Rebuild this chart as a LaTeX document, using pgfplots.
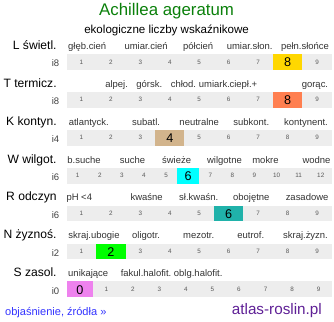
\documentclass[border=0pt]{standalone}
\usepackage{pgfplots}
\pgfplotsset{compat=1.18}
\usepackage{fontspec}
\setmainfont{Liberation Sans}
\definecolor{bg}{HTML}{EDEDED}
\definecolor{titlegreen}{HTML}{0A800A}
\definecolor{cL}{HTML}{FFD700}
\definecolor{cT}{HTML}{FF7F50}
\definecolor{cK}{HTML}{D2B48C}
\definecolor{cW}{HTML}{00FFFF}
\definecolor{cR}{HTML}{20B2AA}
\definecolor{cN}{HTML}{00FF00}
\definecolor{cS}{HTML}{EE82EE}
\definecolor{linkblue}{HTML}{3333FF}
\definecolor{sitepurple}{HTML}{5F2096}
\begin{document}
\begin{tikzpicture}[
  rowt/.style={anchor=base east,font=\fontsize{11.5}{13}\selectfont},
  cat/.style={anchor=base,font=\fontsize{9}{10}\selectfont,text=black!80},
  ilab/.style={anchor=base east,font=\fontsize{9}{10}\selectfont,text=black!75},
  num/.style={anchor=base,font=\fontsize{6}{7}\selectfont,text=black!65},
  big/.style={anchor=base,font=\fontsize{12}{14}\selectfont}]
\begin{axis}[width=334pt,height=322pt,scale only axis,
  xmin=0,xmax=334,ymin=0,ymax=322,y dir=reverse,hide axis,clip=false]
% title
\node[anchor=base,font=\fontsize{16}{18}\selectfont,text=titlegreen] at (axis cs:167,25.5) {Achillea ageratum};
\node[anchor=base,font=\fontsize{11}{13}\selectfont] at (axis cs:167,42) {ekologiczne liczby wskaźnikowe};
% background bars
\addplot[fill=bg,draw=none,mark=none] coordinates {(72,62) (324,62) (324,77) (72,77)};
\addplot[fill=bg,draw=none,mark=none] coordinates {(72,98) (324,98) (324,113) (72,113)};
\addplot[fill=bg,draw=none,mark=none] coordinates {(72,134) (324,134) (324,149) (72,149)};
\addplot[fill=bg,draw=none,mark=none] coordinates {(72,170) (324,170) (324,185) (72,185)};
\addplot[fill=bg,draw=none,mark=none] coordinates {(72,206) (324,206) (324,221) (72,221)};
\addplot[fill=bg,draw=none,mark=none] coordinates {(72,242) (324,242) (324,257) (72,257)};
\addplot[fill=bg,draw=none,mark=none] coordinates {(72,278) (324,278) (324,293) (72,293)};
% small numbers (scale positions other than the indicated value)
\pgfplotsinvokeforeach{1,2,3,4,5,6,7,9}{\node[num] at (axis cs:{86+28*(#1-1)},71.5) {#1};}
\pgfplotsinvokeforeach{1,2,3,4,5,6,7,9}{\node[num] at (axis cs:{86+28*(#1-1)},107.5) {#1};}
\pgfplotsinvokeforeach{1,2,3,5,6,7,8,9}{\node[num] at (axis cs:{86+28*(#1-1)},143.5) {#1};}
\pgfplotsinvokeforeach{1,2,3,4,5,7,8,9,10,11,12}{\node[num] at (axis cs:{82.5+21*(#1-1)},179.5) {#1};}
\pgfplotsinvokeforeach{1,2,3,4,5,7,8,9}{\node[num] at (axis cs:{86+28*(#1-1)},215.5) {#1};}
\pgfplotsinvokeforeach{1,3,4,5,6,7,8,9}{\node[num] at (axis cs:{86+28*(#1-1)},251.5) {#1};}
\pgfplotsinvokeforeach{1,...,9}{\node[num] at (axis cs:{84.6+25.2*#1},287.5) {#1};}
% highlighted cells
\addplot[fill=cL,draw=none,mark=none] coordinates {(268,62) (296,62) (296,77) (268,77)};
\addplot[fill=cT,draw=none,mark=none] coordinates {(268,98) (296,98) (296,113) (268,113)};
\addplot[fill=cK,draw=none,mark=none] coordinates {(156,134) (184,134) (184,149) (156,149)};
\addplot[fill=cW,draw=none,mark=none] coordinates {(177,170) (198,170) (198,185) (177,185)};
\addplot[fill=cR,draw=none,mark=none] coordinates {(212,206) (240,206) (240,221) (212,221)};
\addplot[fill=cN,draw=none,mark=none] coordinates {(100,242) (128,242) (128,257) (100,257)};
\addplot[fill=cS,draw=none,mark=none] coordinates {(72,278) (97.2,278) (97.2,293) (72,293)};
\node[big] at (axis cs:282,74) {8};
\node[big] at (axis cs:282,110) {8};
\node[big] at (axis cs:170,146) {4};
\node[big] at (axis cs:187.5,182) {6};
\node[big] at (axis cs:226,218) {6};
\node[big] at (axis cs:114,254) {2};
\node[big] at (axis cs:84.6,290) {0};
% i labels
\node[ilab] at (axis cs:68.5,74) {i8};
\node[ilab] at (axis cs:68.5,110) {i8};
\node[ilab] at (axis cs:68.5,146) {i4};
\node[ilab] at (axis cs:68.5,182) {i6};
\node[ilab] at (axis cs:68.5,218) {i6};
\node[ilab] at (axis cs:68.5,254) {i2};
\node[ilab] at (axis cs:68.5,290) {i0};
% row titles
\node[rowt] at (axis cs:66,57.5) {L świetl.};
\node[rowt] at (axis cs:66,93.5) {T termicz.};
\node[rowt] at (axis cs:66,129.5) {K kontyn.};
\node[rowt] at (axis cs:66,165.5) {W wilgot.};
\node[rowt] at (axis cs:66,201.5) {R odczyn};
\node[rowt] at (axis cs:66,237.5) {N żyznoś.};
\node[rowt] at (axis cs:66,273.5) {S zasol.};
% category labels
\node[cat] at (axis cs:91.5,57.5) {głęb.cień};
\node[cat] at (axis cs:147.5,57.5) {umiar.cień};
\node[cat] at (axis cs:197,57.5) {półcień};
\node[cat] at (axis cs:246,57.5) {umiar.słon.};
\node[cat] at (axis cs:298.5,57.5) {pełn.słońce};
\node[cat] at (axis cs:119.5,93.5) {alpej.};
\node[cat] at (axis cs:150.5,93.5) {górsk.};
\node[cat] at (axis cs:183,93.5) {chłod.};
\node[cat] at (axis cs:212.5,93.5) {umiark.};
\node[cat] at (axis cs:240,93.5) {ciepł.+};
\node[cat] at (axis cs:308,93.5) {gorąc.};
\node[cat] at (axis cs:93,129.5) {atlantyck.};
\node[cat] at (axis cs:147.5,129.5) {subatl.};
\node[cat] at (axis cs:198,129.5) {neutralne};
\node[cat] at (axis cs:247.5,129.5) {subkont.};
\node[cat] at (axis cs:299.5,129.5) {kontynent.};
\node[cat] at (axis cs:88.5,165.5) {b.suche};
\node[cat] at (axis cs:134.5,165.5) {suche};
\node[cat] at (axis cs:176.5,165.5) {świeże};
\node[cat] at (axis cs:222,165.5) {wilgotne};
\node[cat] at (axis cs:261,165.5) {mokre};
\node[cat] at (axis cs:309.5,165.5) {wodne};
\node[cat] at (axis cs:84,201.5) {pH <4};
\node[cat] at (axis cs:148,201.5) {kwaśne};
\node[cat] at (axis cs:197.5,201.5) {sł.kwaśn.};
\node[cat] at (axis cs:247.5,201.5) {obojętne};
\node[cat] at (axis cs:300.5,201.5) {zasadowe};
\node[cat] at (axis cs:98,237.5) {skraj.ubogie};
\node[cat] at (axis cs:147.5,237.5) {oligotr.};
\node[cat] at (axis cs:197.5,237.5) {mezotr.};
\node[cat] at (axis cs:247,237.5) {eutrof.};
\node[cat] at (axis cs:299,237.5) {skraj.żyzn.};
\node[cat] at (axis cs:92.5,273.5) {unikające};
\node[cat] at (axis cs:147.5,273.5) {fakul.halofit.};
\node[cat] at (axis cs:197,273.5) {oblg.halofit.};
% footer
\node[anchor=base west,font=\fontsize{10.5}{12}\selectfont,text=linkblue] at (axis cs:10,310) {objaśnienie, źródła »};
\node[anchor=base east,font=\fontsize{14.5}{16}\selectfont,text=sitepurple] at (axis cs:318,309.5) {atlas-roslin.pl};
\end{axis}
\end{tikzpicture}
\end{document}
